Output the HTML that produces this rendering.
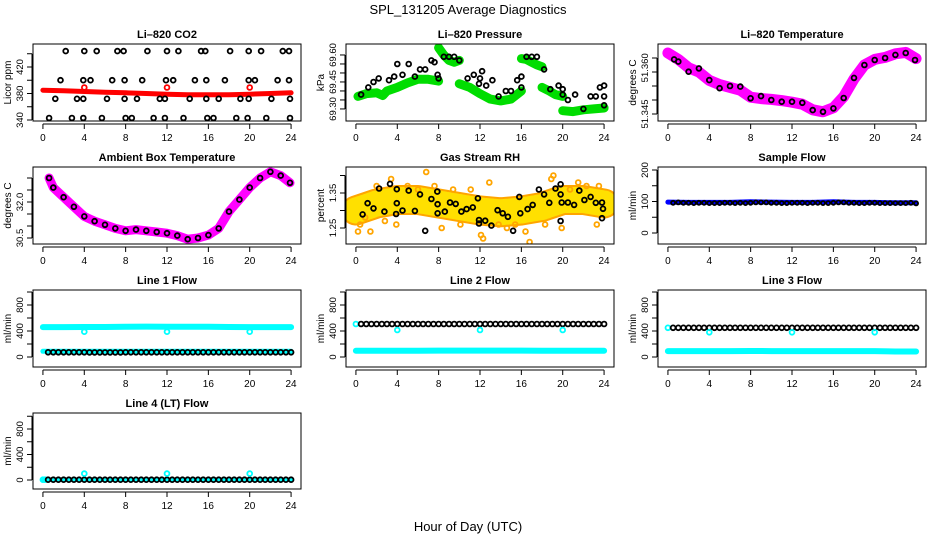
<!DOCTYPE html>
<html><head><meta charset="utf-8"><title>SPL_131205 Average Diagnostics</title>
<style>
html,body{margin:0;padding:0;background:#fff;}
svg{display:block;font-family:"Liberation Sans",Arial,sans-serif;}
</style></head>
<body>
<svg id="chart" width="936" height="540" viewBox="0 0 936 540" xmlns="http://www.w3.org/2000/svg">
<text x="468" y="14" text-anchor="middle" font-size="13">SPL_131205  Average Diagnostics</text>
<text x="468" y="531" text-anchor="middle" font-size="13">Hour of Day (UTC)</text>
</svg>
<script>
// ---------- data ----------
const xTicks = [0,4,8,12,16,20,24];
const H48 = [0.5,1,1.5,2,2.5,3,3.5,4,4.5,5,5.5,6,6.5,7,7.5,8,8.5,9,9.5,10,10.5,11,11.5,12,12.5,13,13.5,14,14.5,15,15.5,16,16.5,17,17.5,18,18.5,19,19.5,20,20.5,21,21.5,22,22.5,23,23.5,24];
const H25 = [0.6,1,2,3,4,5,6,7,8,9,10,11,12,13,14,15,16,17,18,19,20,21,22,23,23.9];
const H13 = [0,2,4,6,8,10,12,14,16,18,20,22,24];
const calHours = [4,12,20];

// CO2
const co2BandV = [385,384,383,382,381,380,379,378,378,378,379,380,381];
const co2TopH = [2.2,4.0,5.2,7.2,7.8,10.1,12.0,13.1,15.3,15.7,18.1,19.9,21.1,23.2,23.8];
const co2TopV = [444,444,444,444,444,444,444,444,444,444,444,444,444,444,444];
const co2R2H = [1.7,3.9,4.6,6.7,7.9,9.6,11.9,12.6,14.7,15.8,17.6,19.9,20.5,22.7,23.8];
const co2R2V = [400,400,400,400,400,400,400,400,400,400,400,400,400,400,400];
const co2R3H = [1.2,3.3,3.9,6.2,7.9,9.1,11.3,11.8,14.2,15.8,17.0,19.1,19.9,22.1,23.9];
const co2R3V = [372,372,372,372,372,372,372,372,372,372,372,372,372,372,372];
const co2R4H = [0.6,2.8,3.9,5.7,8.0,8.6,10.7,11.8,13.6,15.9,16.5,18.7,19.8,21.6,23.9];
const co2R4V = [343,343,343,343,343,343,343,343,343,343,343,343,343,343,343];
const co2CalV = [389,389,389];

// Pressure
const presA_H = [0.2,1,2,2.6,3,4,5,6,7,8];
const presA_V = [69.37,69.385,69.39,69.375,69.40,69.42,69.445,69.465,69.465,69.455];
const presB_H = [8,8.5,9,9.5,10];
const presB_V = [69.64,69.60,69.57,69.56,69.57];
const presC_H = [10,11,12,13,14,15,16];
const presC_V = [69.44,69.42,69.385,69.355,69.345,69.355,69.40];
const presD_H = [16,16.5,17,17.5,18];
const presD_V = [69.58,69.575,69.56,69.545,69.535];
const presE_H = [18,18.7,19.3,20];
const presE_V = [69.42,69.40,69.38,69.37];
const presF_H = [20,21,22,23,24];
const presF_V = [69.29,69.285,69.295,69.30,69.305];
const presPtH = [0.5,1.2,1.7,2.2,3.2,3.7,4.0,4.5,5.1,5.7,6.2,6.7,7.3,7.6,7.9,8.0,8.5,9.0,9.5,10.0,10.8,11.4,11.9,12.0,12.2,12.6,13.2,13.8,14.5,15.0,15.6,16.0,16.0,16.5,17.0,17.5,18.2,18.8,19.6,20.0,20.0,20.5,21.2,22.0,22.7,23.2,23.6,24.0,24.0,24.0];
const presPtV = [69.38,69.42,69.45,69.47,69.46,69.48,69.55,69.49,69.55,69.48,69.52,69.52,69.57,69.56,69.49,69.47,69.59,69.59,69.59,69.57,69.47,69.49,69.44,69.47,69.51,69.43,69.46,69.37,69.40,69.40,69.46,69.48,69.42,69.59,69.59,69.59,69.52,69.41,69.43,69.41,69.38,69.35,69.38,69.30,69.37,69.37,69.42,69.43,69.37,69.32];

// Li-820 temperature
const ltBandH = [0,1,2,3,4,5,6,7,8,9,10,11,12,13,14,15,16,17,18,19,20,21,22,23,24];
const ltBandV = [51.3668,51.3645,51.3615,51.360,51.357,51.3555,51.3545,51.3535,51.351,51.3505,51.3502,51.3498,51.3492,51.3485,51.3465,51.3458,51.3472,51.3512,51.3575,51.3625,51.3645,51.3652,51.3665,51.3670,51.3648];
const ltPtV = [51.3645,51.3637,51.3601,51.3613,51.3571,51.3542,51.355,51.3548,51.3506,51.3514,51.350,51.3494,51.3494,51.349,51.3464,51.3458,51.347,51.3507,51.3579,51.3625,51.3643,51.3650,51.3661,51.3668,51.3643];

// Ambient box temperature
const abPtV = [33.0,32.6,32.2,31.8,31.4,31.2,31.05,30.9,30.8,30.85,30.8,30.75,30.7,30.6,30.45,30.5,30.62,30.9,31.6,32.1,32.6,33.0,33.26,33.1,32.8];

// Gas stream RH
const rhBandV = [1.30,1.32,1.33,1.33,1.32,1.31,1.30,1.295,1.30,1.31,1.33,1.33,1.32];
const rhPtH = [0.65,1.13,1.7,2.24,2.75,3.3,3.89,3.95,3.95,4.5,5.1,5.7,6.2,6.7,7.3,7.87,7.9,7.9,8.6,9.1,9.65,10.2,10.7,11.3,11.8,11.9,11.9,12.5,13.1,13.7,14.2,14.7,15.2,15.8,15.9,16.6,17.1,17.7,18.2,18.7,19.3,19.8,19.8,19.8,19.9,20.5,21.1,21.6,22.1,22.7,23.2,23.8,23.8,23.9];
const rhPtV = [1.289,1.321,1.306,1.363,1.297,1.376,1.29,1.361,1.321,1.30,1.357,1.299,1.346,1.242,1.333,1.354,1.292,1.318,1.297,1.323,1.319,1.297,1.304,1.309,1.335,1.273,1.263,1.271,1.257,1.301,1.292,1.282,1.242,1.339,1.292,1.304,1.316,1.360,1.346,1.322,1.363,1.375,1.346,1.27,1.323,1.323,1.316,1.357,1.33,1.339,1.322,1.323,1.278,1.305];
const rhScatH = [0.2,0.4,0.9,1.4,2.0,2.8,3.4,3.9,5.0,6.0,6.8,7.6,8.3,9.4,10.1,11.1,12.1,12.3,12.9,13.8,14.6,15.4,16.4,16.8,18.3,18.9,19.1,19.9,20.7,21.5,22.3,23.3,23.5];
const rhScatV = [1.24,1.26,1.28,1.24,1.37,1.27,1.39,1.26,1.37,1.36,1.41,1.37,1.25,1.36,1.26,1.36,1.23,1.22,1.38,1.26,1.25,1.26,1.24,1.21,1.26,1.39,1.40,1.25,1.36,1.38,1.37,1.26,1.37];

// Sample flow
const sfBandV = [98,97,97,97,99,98,97,97,99,97,97,96,96];
const sfPtV = [96,97,96,96,95,96,96,95,95,95,96,96,95,96,95,96,97,97,97,96,96,95,95,96,96,96,95,96,96,95,95,96,97,97,96,96,95,95,96,96,95,95,95,95,95,95,96,94];

// Line flows
const l1CyanV = [460,460,462,462,465,468,466,466,465,462,460,460,460];
const l1LowV = [88,88,88,88,88,88,88,88,88,88,88,88,88];
const l1CalV = [390,390,390];
const l1BlackV = [72,72,72,72,72,72,72,72,71,71,71,71,71,71,71,72,72,72,72,72,72,72,72,72,72,72,72,72,72,72,72,72,72,72,72,72,72,72,72,72,72,72,72,72,72,72,72,72];
const l2CyanV = [95,95,95,95,98,98,98,98,98,97,95,95,95];
const l2CalV = [415,415,415];
const l2BlackV = [508,508,508,508,508,508,508,508,508,508,508,508,508,508,508,508,508,508,508,508,508,508,508,508,508,508,508,508,508,508,508,508,508,508,508,508,508,508,508,508,508,508,508,508,508,508,508,508];
const l3CyanV = [90,90,90,90,92,90,90,90,90,90,90,85,85];
const l3CalV = [380,380,380];
const l3BlackV = [450,450,450,450,450,450,450,450,450,450,450,450,450,450,450,450,450,450,450,450,450,450,450,450,450,450,450,450,450,450,450,450,450,450,450,450,450,450,450,450,450,450,450,450,450,450,450,450];
const l4CyanV = [5,5,5,5,5,5,5,5,5,5,5,5,5];
const l4CalV = [100,100,100];
const l4BlackV = [5,5,5,5,5,5,5,5,5,5,5,5,5,5,5,5,5,5,5,5,5,5,5,5,5,5,5,5,5,5,5,5,5,5,5,5,5,5,5,5,5,5,5,5,5,5,5,5];

// ---------- drawing ----------
const NS = "http://www.w3.org/2000/svg";
const svg = document.getElementById('chart');
const colLeft = [33, 346, 658];
const colW = 268;
const rowTop = [44, 167, 290, 413];
const rowH = [77, 77, 77, 76];
const XMIN = -0.96, XMAX = 24.96;

function mk(tag, parent) { const e = document.createElementNS(NS, tag); parent.appendChild(e); return e; }

function panel(p) {
  const L = colLeft[p.col], T = rowTop[p.row], W = colW, Hh = rowH[p.row];
  const g = mk('g', svg);
  
  
  const xs = h => L + (h - XMIN) / (XMAX - XMIN) * W;
  const ys = v => T + Hh - (v - p.ymin) / (p.ymax - p.ymin) * Hh;
  const cp = mk('clipPath', g); cp.setAttribute('id', 'clip-' + p.name);
  const cr = mk('rect', cp); cr.setAttribute('x', L); cr.setAttribute('y', T); cr.setAttribute('width', W); cr.setAttribute('height', Hh);
  const plot = mk('g', g); plot.setAttribute('clip-path', 'url(#clip-' + p.name + ')');
  
  
  (p.bands || []).forEach((b, i) => {
    const pl = mk('polyline', plot);
    
    
    pl.setAttribute('points', b.h.map((h, k) => xs(h).toFixed(1) + ',' + ys(b.v[k]).toFixed(1)).join(' '));
    pl.setAttribute('fill', 'none'); pl.setAttribute('stroke', b.color);
    pl.setAttribute('stroke-width', b.w); pl.setAttribute('stroke-linejoin', 'round'); pl.setAttribute('stroke-linecap', 'round');
    if (b.dash) pl.setAttribute('stroke-dasharray', b.dash);
  });
  (p.pts || []).forEach(s => {
    s.h.forEach((h, k) => {
      const c = mk('circle', plot);
      
      
      c.setAttribute('cx', xs(h).toFixed(1)); c.setAttribute('cy', ys(s.v[k]).toFixed(1));
      c.setAttribute('r', s.r || 2.4); c.setAttribute('fill', s.fill || 'none');
      c.setAttribute('stroke', s.color); c.setAttribute('stroke-width', s.sw || 1.8);
    });
  });
  const bx = mk('rect', g);
  
  
  bx.setAttribute('x', L); bx.setAttribute('y', T); bx.setAttribute('width', W); bx.setAttribute('height', Hh);
  bx.setAttribute('fill', 'none'); bx.setAttribute('stroke', '#000'); bx.setAttribute('stroke-width', 1);
  const tt = mk('text', g);
  
  
  tt.setAttribute('x', L + W / 2); tt.setAttribute('y', T - 6); tt.setAttribute('text-anchor', 'middle');
  tt.setAttribute('font-size', '11'); tt.setAttribute('font-weight', 'bold'); tt.textContent = p.title;
  const xa = mk('g', g);
  
  
  const axY = T + Hh + 3;
  const xl = mk('line', xa); xl.setAttribute('x1', xs(0)); xl.setAttribute('x2', xs(24)); xl.setAttribute('y1', axY); xl.setAttribute('y2', axY); xl.setAttribute('stroke', '#000');
  xTicks.forEach(t => {
    const l = mk('line', xa); l.setAttribute('x1', xs(t)); l.setAttribute('x2', xs(t)); l.setAttribute('y1', axY); l.setAttribute('y2', axY + 5); l.setAttribute('stroke', '#000');
    const tx = mk('text', xa);
    
    
    tx.setAttribute('x', xs(t)); tx.setAttribute('y', axY + 17); tx.setAttribute('text-anchor', 'middle'); tx.setAttribute('font-size', '10');
    tx.textContent = t;
  });
  const ya = mk('g', g);
  
  
  const axX = L - 1;
  const yl = mk('line', ya); yl.setAttribute('x1', axX); yl.setAttribute('x2', axX);
  yl.setAttribute('y1', ys(p.yticks[0])); yl.setAttribute('y2', ys(p.yticks[p.yticks.length - 1])); yl.setAttribute('stroke', '#000');
  p.yticks.forEach(t => {
    const l = mk('line', ya); l.setAttribute('x1', axX - 5); l.setAttribute('x2', axX); l.setAttribute('y1', ys(t)); l.setAttribute('y2', ys(t)); l.setAttribute('stroke', '#000');
  });
  p.ylabVals.forEach((t, k) => {
    const tx = mk('text', ya);
    
    
    const yy = ys(t), xx = axX - 9;
    tx.setAttribute('transform', 'translate(' + xx + ',' + yy + ') rotate(-90)');
    tx.setAttribute('text-anchor', 'middle'); tx.setAttribute('font-size', '9.5');
    tx.textContent = p.ylabText[k];
  });
  const yt = mk('text', g);
  
  
  yt.setAttribute('transform', 'translate(' + (L - 22) + ',' + (T + Hh / 2) + ') rotate(-90)');
  yt.setAttribute('text-anchor', 'middle'); yt.setAttribute('font-size', '10'); yt.textContent = p.ylab;
}

const CY = '#00FFFF';
panel({name:'co2-panel', col:0, row:0, title:'Li–820 CO2', ylab:'Licor ppm', ymin:338.5, ymax:454.7,
  yticks:[340,360,380,400,420,440], ylabVals:[340,380,420], ylabText:['340','380','420'],
  bands:[{h:H13, v:co2BandV, color:'#FF0000', w:5}],
  pts:[{h:co2TopH,v:co2TopV,color:'#000'},{h:co2R2H,v:co2R2V,color:'#000'},{h:co2R3H,v:co2R3V,color:'#000'},{h:co2R4H,v:co2R4V,color:'#000'},{h:calHours,v:co2CalV,color:'#FF0000'}]});

panel({name:'pressure-panel', col:1, row:0, title:'Li–820 Pressure', ylab:'kPa', ymin:69.233, ymax:69.661,
  yticks:[69.30,69.35,69.40,69.45,69.50,69.55,69.60], ylabVals:[69.30,69.45,69.60], ylabText:['69.30','69.45','69.60'],
  bands:[{h:presA_H,v:presA_V,color:'#00DD00',w:9},{h:presB_H,v:presB_V,color:'#00DD00',w:9},{h:presC_H,v:presC_V,color:'#00DD00',w:9},{h:presD_H,v:presD_V,color:'#00DD00',w:9},{h:presE_H,v:presE_V,color:'#00DD00',w:9},{h:presF_H,v:presF_V,color:'#00DD00',w:9}],
  pts:[{h:presPtH,v:presPtV,color:'#000'}]});

panel({name:'li820-temperature-panel', col:2, row:0, title:'Li–820 Temperature', ylab:'degrees C', ymin:51.3425, ymax:51.370,
  yticks:[51.345,51.350,51.355,51.360,51.365], ylabVals:[51.345,51.3615], ylabText:['51.345','51.360'],
  bands:[{h:ltBandH,v:ltBandV,color:'#FF00FF',w:11}],
  pts:[{h:H25,v:ltPtV,color:'#000'}]});

panel({name:'ambient-temperature-panel', col:0, row:1, title:'Ambient Box Temperature', ylab:'degrees C', ymin:30.25, ymax:33.458,
  yticks:[30.5,31.0,31.5,32.0,32.5,33.0], ylabVals:[30.5,32.0], ylabText:['30.5','32.0'],
  bands:[{h:H25,v:abPtV,color:'#FF00FF',w:9}],
  pts:[{h:H25,v:abPtV,color:'#000'}]});

panel({name:'rh-panel', col:1, row:1, title:'Gas Stream RH', ylab:'percent', ymin:1.2043, ymax:1.4243,
  yticks:[1.25,1.30,1.35,1.40], ylabVals:[1.25,1.35], ylabText:['1.25','1.35'],
  bands:[{h:H13,v:rhBandV,color:'#FFA500',w:30},{h:H13,v:rhBandV,color:'#FFE000',w:26,dash:'2 2'}],
  pts:[{h:rhScatH,v:rhScatV,color:'#FFA500'},{h:rhPtH,v:rhPtV,color:'#000'}]});

panel({name:'sample-flow-panel', col:2, row:1, title:'Sample Flow', ylab:'ml/min', ymin:-34.9, ymax:209.5,
  yticks:[0,50,100,150,200], ylabVals:[0,100,200], ylabText:['0','100','200'],
  bands:[{h:H13,v:sfBandV,color:'#0000FF',w:5}],
  pts:[{h:H48,v:sfPtV,color:'#000',r:2}]});

const flowTicks = [0,200,400,600,800,1000];
panel({name:'line1-flow-panel', col:0, row:2, title:'Line 1 Flow', ylab:'ml/min', ymin:-154, ymax:1031,
  yticks:flowTicks, ylabVals:[0,400,800], ylabText:['0','400','800'],
  bands:[{h:H13,v:l1CyanV,color:CY,w:6},{h:H13,v:l1LowV,color:CY,w:5}],
  pts:[{h:H48,v:l1BlackV,color:'#000'},{h:calHours,v:l1CalV,color:CY}]});

panel({name:'line2-flow-panel', col:1, row:2, title:'Line 2 Flow', ylab:'ml/min', ymin:-154, ymax:1031,
  yticks:flowTicks, ylabVals:[0,400,800], ylabText:['0','400','800'],
  bands:[{h:H13,v:l2CyanV,color:CY,w:6}],
  pts:[{h:[0],v:[508],color:CY},{h:H48,v:l2BlackV,color:'#000'},{h:calHours,v:l2CalV,color:CY}]});

panel({name:'line3-flow-panel', col:2, row:2, title:'Line 3 Flow', ylab:'ml/min', ymin:-154, ymax:1031,
  yticks:flowTicks, ylabVals:[0,400,800], ylabText:['0','400','800'],
  bands:[{h:H13,v:l3CyanV,color:CY,w:6}],
  pts:[{h:[0],v:[450],color:CY},{h:H48,v:l3BlackV,color:'#000'},{h:calHours,v:l3CalV,color:CY}]});

panel({name:'line4-flow-panel', col:0, row:3, title:'Line 4 (LT) Flow', ylab:'ml/min', ymin:-141, ymax:1051,
  yticks:flowTicks, ylabVals:[0,400,800], ylabText:['0','400','800'],
  bands:[{h:H13,v:l4CyanV,color:CY,w:4}],
  pts:[{h:[0,0.2],v:[5,5],color:CY},{h:H48,v:l4BlackV,color:'#000'},{h:calHours,v:l4CalV,color:CY}]});
</script>
</body></html>
